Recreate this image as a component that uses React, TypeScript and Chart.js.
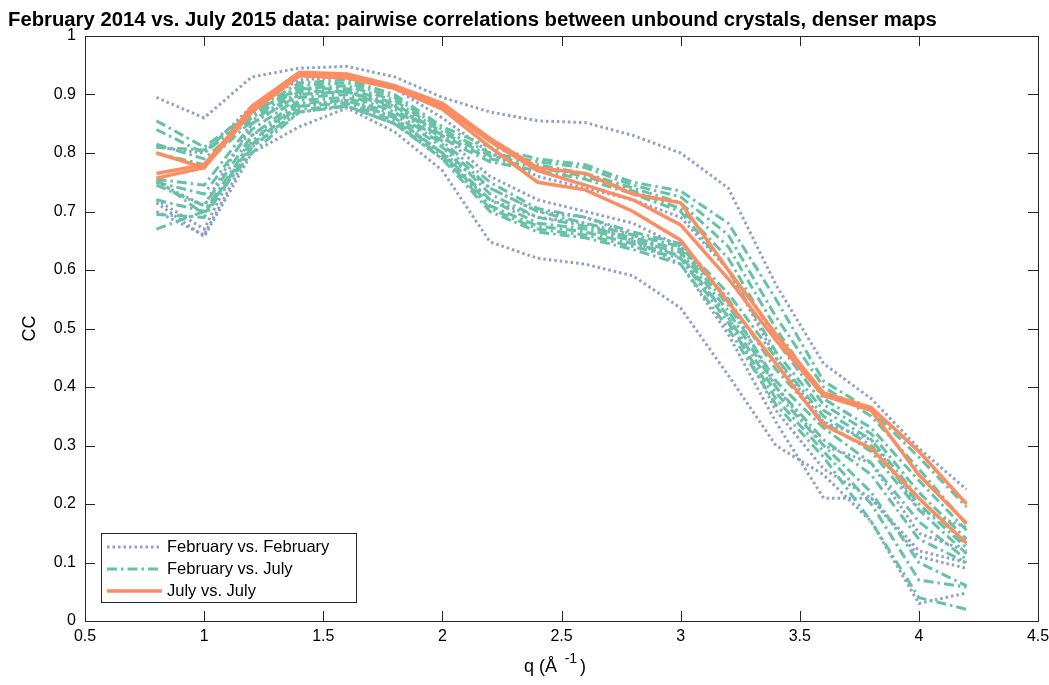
import React, { useEffect, useRef } from "react";
import { Chart, registerables } from "chart.js";

Chart.register(...registerables);

const qValues = [0.8, 1.0, 1.2, 1.4, 1.6, 1.8, 2.0, 2.2, 2.4, 2.6, 2.8, 3.0, 3.2, 3.4, 3.6, 3.8, 4.0, 4.2];

const xTicks = [0.5, 1, 1.5, 2, 2.5, 3, 3.5, 4, 4.5];
const yTicks = [0, 0.1, 0.2, 0.3, 0.4, 0.5, 0.6, 0.7, 0.8, 0.9, 1];

const titleText = "February 2014 vs. July 2015 data: pairwise correlations between unbound crystals, denser maps";
const legendLabels = ["February vs. February", "February vs. July", "July vs. July"];

// February vs. February (dotted)
const febFeb1 = [0.895, 0.86, 0.93, 0.945, 0.948, 0.93, 0.895, 0.87, 0.855, 0.852, 0.83, 0.80, 0.74, 0.575, 0.44, 0.38, 0.295, 0.225];
const febFeb2 = [0.81, 0.80, 0.88, 0.925, 0.93, 0.91, 0.86, 0.80, 0.76, 0.74, 0.72, 0.69, 0.60, 0.45, 0.34, 0.31, 0.19, 0.16];
const febFeb3 = [0.75, 0.71, 0.85, 0.90, 0.905, 0.88, 0.83, 0.76, 0.72, 0.70, 0.68, 0.64, 0.55, 0.40, 0.30, 0.27, 0.15, 0.12];
const febFeb4 = [0.72, 0.67, 0.83, 0.88, 0.89, 0.86, 0.80, 0.74, 0.70, 0.69, 0.66, 0.62, 0.52, 0.36, 0.26, 0.21, 0.12, 0.10];
const febFeb5 = [0.70, 0.66, 0.81, 0.87, 0.88, 0.85, 0.79, 0.72, 0.69, 0.68, 0.65, 0.61, 0.49, 0.34, 0.21, 0.21, 0.11, 0.09];
const febFeb6 = [0.715, 0.657, 0.80, 0.845, 0.877, 0.836, 0.77, 0.648, 0.62, 0.61, 0.59, 0.535, 0.42, 0.30, 0.25, 0.17, 0.03, 0.048];

// February vs. July (dash-dot)
const febJul1 = [0.855, 0.81, 0.87, 0.92, 0.925, 0.90, 0.845, 0.81, 0.79, 0.78, 0.75, 0.735, 0.68, 0.55, 0.41, 0.36, 0.28, 0.195];
const febJul2 = [0.84, 0.80, 0.865, 0.915, 0.92, 0.895, 0.84, 0.80, 0.785, 0.775, 0.745, 0.725, 0.66, 0.52, 0.40, 0.35, 0.26, 0.165];
const febJul3 = [0.815, 0.79, 0.86, 0.91, 0.915, 0.89, 0.835, 0.795, 0.78, 0.765, 0.74, 0.715, 0.64, 0.50, 0.38, 0.33, 0.24, 0.155];
const febJul4 = [0.81, 0.805, 0.87, 0.91, 0.91, 0.885, 0.83, 0.79, 0.775, 0.76, 0.735, 0.705, 0.62, 0.48, 0.37, 0.32, 0.22, 0.14];
const febJul5 = [0.80, 0.78, 0.855, 0.905, 0.905, 0.88, 0.825, 0.785, 0.77, 0.755, 0.73, 0.70, 0.60, 0.46, 0.36, 0.31, 0.21, 0.13];
const febJul6 = [0.755, 0.745, 0.85, 0.90, 0.905, 0.875, 0.82, 0.75, 0.705, 0.69, 0.665, 0.645, 0.56, 0.45, 0.35, 0.30, 0.20, 0.125];
const febJul7 = [0.75, 0.73, 0.84, 0.895, 0.90, 0.87, 0.815, 0.74, 0.70, 0.68, 0.66, 0.64, 0.55, 0.43, 0.34, 0.29, 0.19, 0.115];
const febJul8 = [0.745, 0.71, 0.83, 0.89, 0.895, 0.865, 0.81, 0.73, 0.69, 0.675, 0.655, 0.635, 0.54, 0.41, 0.33, 0.27, 0.17, 0.105];
const febJul9 = [0.72, 0.70, 0.82, 0.885, 0.89, 0.86, 0.80, 0.72, 0.68, 0.67, 0.65, 0.63, 0.53, 0.40, 0.31, 0.25, 0.14, 0.10];
const febJul10 = [0.755, 0.695, 0.815, 0.88, 0.885, 0.855, 0.80, 0.71, 0.675, 0.665, 0.645, 0.625, 0.52, 0.39, 0.30, 0.22, 0.10, 0.06];
const febJul11 = [0.695, 0.69, 0.81, 0.875, 0.88, 0.85, 0.795, 0.705, 0.67, 0.66, 0.64, 0.62, 0.51, 0.38, 0.29, 0.20, 0.07, 0.058];
const febJul12 = [0.67, 0.70, 0.80, 0.87, 0.88, 0.85, 0.79, 0.70, 0.665, 0.655, 0.635, 0.61, 0.50, 0.37, 0.28, 0.17, 0.04, 0.02];

// July vs. July (solid)
const julJul1 = [0.80, 0.775, 0.88, 0.938, 0.935, 0.915, 0.885, 0.825, 0.775, 0.765, 0.73, 0.715, 0.60, 0.49, 0.39, 0.365, 0.29, 0.20];
const julJul2 = [0.765, 0.78, 0.875, 0.935, 0.93, 0.912, 0.88, 0.82, 0.77, 0.745, 0.72, 0.677, 0.585, 0.48, 0.385, 0.36, 0.25, 0.167];
const julJul3 = [0.757, 0.775, 0.87, 0.932, 0.928, 0.91, 0.875, 0.81, 0.75, 0.737, 0.70, 0.651, 0.545, 0.44, 0.335, 0.295, 0.21, 0.133];

const febFebSeries = [febFeb1, febFeb2, febFeb3, febFeb4, febFeb5, febFeb6];
const febJulSeries = [febJul1, febJul2, febJul3, febJul4, febJul5, febJul6, febJul7, febJul8, febJul9, febJul10, febJul11, febJul12];
const julJulSeries = [julJul1, julJul2, julJul3];

const COLOR_FF = "#8da0cb";
const COLOR_FJ = "#66c2a5";
const COLOR_JJ = "#fc8d62";
const DASH_FF = [2.5, 3];
const DASH_FJ = [10, 4, 2.5, 4];
const AXIS = "#262626";
const FONT = '"Liberation Sans", Arial, Helvetica, sans-serif';

const toPoints = (arr: number[]) => qValues.map((q, i) => ({ x: q, y: arr[i] }));

const fmt = (v: number) => String(Math.round(v * 10) / 10);

const decorPlugin = {
  id: "decor",
  afterDraw(chart: any) {
    const ctx = chart.ctx as CanvasRenderingContext2D;
    const a = chart.chartArea;
    const xs = chart.scales.x;
    const ys = chart.scales.y;
    ctx.save();
    // box
    ctx.strokeStyle = AXIS;
    ctx.lineWidth = 1;
    ctx.strokeRect(Math.round(a.left) + 0.5, Math.round(a.top) + 0.5, Math.round(a.right - a.left), Math.round(a.bottom - a.top));
    // ticks
    const tl = 10;
    ctx.beginPath();
    xTicks.forEach((v) => {
      const px = Math.round(xs.getPixelForValue(v)) + 0.5;
      ctx.moveTo(px, a.bottom);
      ctx.lineTo(px, a.bottom - tl);
      ctx.moveTo(px, a.top);
      ctx.lineTo(px, a.top + tl);
    });
    yTicks.forEach((v) => {
      const py = Math.round(ys.getPixelForValue(v)) + 0.5;
      ctx.moveTo(a.left, py);
      ctx.lineTo(a.left + tl, py);
      ctx.moveTo(a.right, py);
      ctx.lineTo(a.right - tl, py);
    });
    ctx.stroke();
    // tick labels
    ctx.fillStyle = "#000";
    ctx.font = `16px ${FONT}`;
    ctx.textAlign = "center";
    ctx.textBaseline = "top";
    xTicks.forEach((v) => {
      ctx.fillText(fmt(v), xs.getPixelForValue(v), a.bottom + 8);
    });
    ctx.textAlign = "right";
    ctx.textBaseline = "middle";
    yTicks.forEach((v) => {
      ctx.fillText(fmt(v), a.left - 9, ys.getPixelForValue(v));
    });
    // axis titles
    ctx.save();
    ctx.translate(30, (a.top + a.bottom) / 2);
    ctx.rotate(-Math.PI / 2);
    ctx.textAlign = "center";
    ctx.textBaseline = "middle";
    ctx.font = `18px ${FONT}`;
    ctx.fillText("CC", 0, 0);
    ctx.restore();
    // x title q (Å^-1)
    ctx.font = `18px ${FONT}`;
    const p1 = "q (Å";
    const p3 = ")";
    const w1 = ctx.measureText(p1).width;
    const w3 = ctx.measureText(p3).width;
    ctx.font = `14px ${FONT}`;
    const p2 = "  -1";
    const w2 = ctx.measureText(p2).width;
    const total = w1 + w2 + w3 + 3;
    const cx = 555;
    let x0 = cx - total / 2;
    const yb = 672;
    ctx.textAlign = "left";
    ctx.textBaseline = "alphabetic";
    ctx.font = `18px ${FONT}`;
    ctx.fillText(p1, x0, yb);
    x0 += w1;
    ctx.font = `14px ${FONT}`;
    ctx.fillText(p2, x0, yb - 9);
    x0 += w2 + 3;
    ctx.font = `18px ${FONT}`;
    ctx.fillText(p3, x0, yb);
    // title
    ctx.font = `bold 20.3px ${FONT}`;
    ctx.textAlign = "left";
    ctx.fillText(titleText, 8, 26);
    // legend
    const lx = 101.5, ly = 533.5, lw = 255, lh = 69;
    ctx.fillStyle = "#fff";
    ctx.fillRect(lx, ly, lw, lh);
    ctx.strokeStyle = AXIS;
    ctx.lineWidth = 1;
    ctx.strokeRect(lx, ly, lw, lh);
    const rows = [547, 569, 591];
    const styles = [
      { c: COLOR_FF, d: DASH_FF, w: 3 },
      { c: COLOR_FJ, d: DASH_FJ, w: 3 },
      { c: COLOR_JJ, d: [] as number[], w: 3.5 },
    ];
    rows.forEach((ry, i) => {
      ctx.beginPath();
      ctx.strokeStyle = styles[i].c;
      ctx.lineWidth = styles[i].w;
      ctx.setLineDash(styles[i].d);
      ctx.moveTo(107, ry);
      ctx.lineTo(162, ry);
      ctx.stroke();
      ctx.setLineDash([]);
      ctx.fillStyle = "#000";
      ctx.font = `16.5px ${FONT}`;
      ctx.textBaseline = "middle";
      ctx.fillText(legendLabels[i], 167, ry);
    });
    ctx.restore();
  },
};

export default function App() {
  const ref = useRef<HTMLCanvasElement | null>(null);
  useEffect(() => {
    if (!ref.current) return;
    const datasets: any[] = [];
    febFebSeries.forEach((s, i) =>
      datasets.push({
        label: `${legendLabels[0]} ${i + 1}`,
        data: toPoints(s),
        borderColor: COLOR_FF,
        borderWidth: 3,
        borderDash: DASH_FF,
        pointRadius: 0,
        tension: 0,
        order: 3,
      })
    );
    febJulSeries.forEach((s, i) =>
      datasets.push({
        label: `${legendLabels[1]} ${i + 1}`,
        data: toPoints(s),
        borderColor: COLOR_FJ,
        borderWidth: 3,
        borderDash: DASH_FJ,
        pointRadius: 0,
        tension: 0,
        order: 2,
      })
    );
    julJulSeries.forEach((s, i) =>
      datasets.push({
        label: `${legendLabels[2]} ${i + 1}`,
        data: toPoints(s),
        borderColor: COLOR_JJ,
        borderWidth: 3.5,
        pointRadius: 0,
        tension: 0,
        order: 1,
      })
    );
    const chart = new Chart(ref.current, {
      type: "line",
      data: { datasets },
      options: {
        animation: false,
        responsive: false,
        maintainAspectRatio: false,
        layout: { padding: { left: 0, right: 11, top: 36, bottom: 0 } },
        plugins: { legend: { display: false }, title: { display: false }, tooltip: { enabled: false } },
        scales: {
          x: {
            type: "linear",
            min: 0.5,
            max: 4.5,
            grid: { display: false },
            border: { display: false },
            ticks: { display: false },
            afterFit: (s: any) => {
              s.height = 64;
            },
          },
          y: {
            type: "linear",
            min: 0,
            max: 1,
            grid: { display: false },
            border: { display: false },
            ticks: { display: false },
            afterFit: (s: any) => {
              s.width = 85;
            },
          },
        },
      },
      plugins: [decorPlugin],
    } as any);
    return () => chart.destroy();
  }, []);
  return (
    <div style={{ position: "absolute", left: 0, top: 0, width: 1049, height: 685, background: "#fff" }}>
      <canvas ref={ref} width={1049} height={685} style={{ display: "block" }} />
    </div>
  );
}
